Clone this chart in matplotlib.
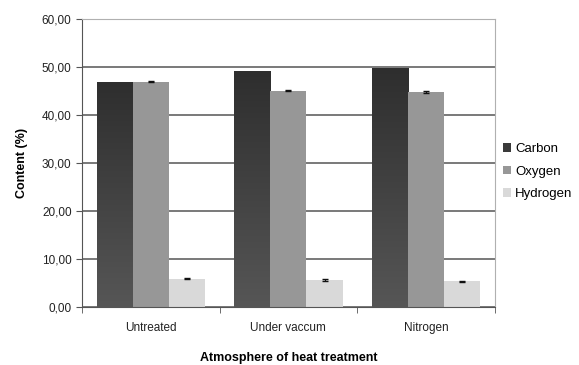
import numpy as np
import matplotlib.pyplot as plt
from matplotlib.colors import LinearSegmentedColormap
from matplotlib.patches import Patch
from matplotlib.ticker import FuncFormatter

plt.rcParams['font.family'] = ['Liberation Sans', 'DejaVu Sans']

categories = ["Untreated", "Under vaccum", "Nitrogen"]
carbon = [47.0, 49.2, 49.8]
oxygen = [47.0, 45.1, 44.8]
hydrogen = [5.9, 5.6, 5.4]
oxygen_err = [0.1, 0.1, 0.25]
hydrogen_err = [0.1, 0.15, 0.1]

fig = plt.figure(figsize=(5.79, 3.65), dpi=100)
ax = fig.add_axes([0.1416, 0.159, 0.713, 0.788])

x = np.arange(len(categories))
w = 0.263
series = [
    ("Carbon", carbon, None, "#3a3a3a"),
    ("Oxygen", oxygen, oxygen_err, "#979797"),
    ("Hydrogen", hydrogen, hydrogen_err, "#d9d9d9"),
]
shade = LinearSegmentedColormap.from_list("shade", ["#565656", "#2e2e2e"])
grad = np.linspace(0, 1, 256).reshape(-1, 1)

handles = []
for i, (name, vals, errs, col) in enumerate(series):
    pos = x + (i - 1) * w
    bars = ax.bar(pos, vals, width=w, color=col, zorder=2)
    handles.append(Patch(facecolor=col, label=name))
    if name == "Carbon":
        # dark bars get a vertical shade, darker at the top
        for b in bars:
            b.set_facecolor("none")
            im = ax.imshow(grad, cmap=shade,
                           extent=[b.get_x(), b.get_x() + b.get_width(), 0, b.get_height()],
                           origin="lower", aspect="auto", zorder=2)
            im.set_clip_path(b)
    if errs is not None:
        ax.errorbar(pos, vals, yerr=errs, fmt="none", ecolor="#111111",
                    elinewidth=0.8, capsize=2.5, capthick=1.0, zorder=3)

ax.set_xlim(-0.5, len(categories) - 0.5)
ax.set_ylim(0, 60)

ax.set_yticks(np.arange(0, 61, 10))
ax.yaxis.set_major_formatter(FuncFormatter(lambda v, p: f"{v:.2f}".replace(".", ",")))
ax.yaxis.grid(True, color="#6e6e6e", linewidth=1.3, zorder=0)
ax.set_axisbelow(True)

ax.set_xticks(x)
ax.set_xticklabels(categories)
ax.set_xticks(np.arange(-0.5, len(categories), 1), minor=True)
ax.tick_params(axis="x", which="major", length=0, pad=11, labelsize=8.5, labelcolor="#222222")
ax.tick_params(axis="x", which="minor", length=4, direction="out", color="#555555")
ax.tick_params(axis="y", length=4, direction="out", color="#555555", labelsize=8.5,
               labelcolor="#222222")

for s in ["top", "right"]:
    ax.spines[s].set_color("#b0b0b0")
ax.spines["left"].set_color("#555555")
ax.spines["bottom"].set_color("#555555")

ax.set_ylabel("Content (%)", fontsize=9, fontweight="bold", labelpad=10)
ax.set_xlabel("Atmosphere of heat treatment", fontsize=9, fontweight="bold", labelpad=13)

ax.legend(handles=handles, loc="center left", bbox_to_anchor=(1.0, 0.47), frameon=False,
          fontsize=9.5, handlelength=0.6, handleheight=0.6, handletextpad=0.3,
          labelspacing=0.8, borderaxespad=0.25)

fig.savefig("out.png", dpi=100)
